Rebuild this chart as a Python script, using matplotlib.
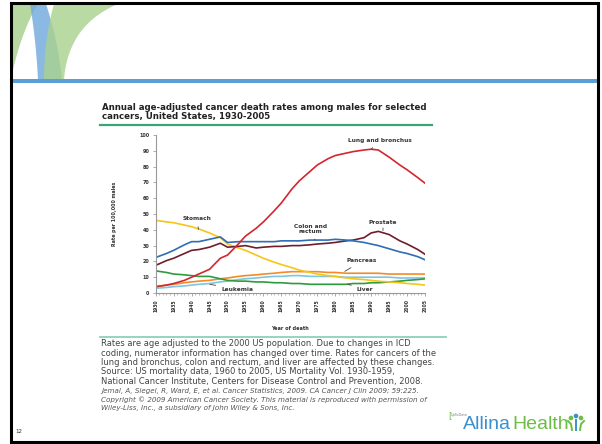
import numpy as np
import matplotlib
matplotlib.use('Agg')
import matplotlib.pyplot as plt
from matplotlib.patches import Polygon, Rectangle, Circle

W, H = 602, 444

years = [1930, 1933, 1935, 1938, 1940, 1942, 1945, 1948, 1950, 1953, 1955,
         1958, 1960, 1963, 1965, 1968, 1970, 1973, 1975, 1978, 1980, 1983,
         1985, 1988, 1990, 1992, 1995, 1998, 2000, 2003, 2005]

lung = [4, 5, 6, 8, 10, 12, 15, 22, 24, 31, 36, 41, 45, 52, 57, 66, 71, 77,
        81, 85, 87, 88.5, 89.5, 90.5, 91, 90.5, 86, 81, 78, 73, 69.5]
stomach = [46, 45, 44.5, 43, 42, 40.5, 38, 35, 31, 28.5, 27, 24, 22, 19.5, 18,
           16, 14.5, 13, 12, 11, 10.5, 9.5, 9, 8.5, 8, 7.5, 7, 6.5, 6, 5.5, 5]
colon = [22.5, 25, 27, 30.5, 32.5, 32.5, 34, 35.5, 32, 32.5, 32.5, 32.5, 32.5,
         32.5, 33, 33, 33, 33.5, 33.5, 33.5, 34, 33.5, 33, 32, 31, 30, 28, 26,
         25, 23, 21]
prostate = [17.5, 20.5, 22, 25, 27, 27.5, 29, 31.5, 29, 29.5, 30, 28.5, 29,
            29.5, 29.5, 30, 30, 30.5, 31, 31.5, 32, 33, 33.5, 35, 38, 39, 37,
            33, 31, 27.5, 24.5]
pancreas = [4, 5, 5.5, 6.5, 7, 7.5, 8, 9, 9.5, 10.5, 11, 11.5, 12, 12.5, 13,
            13.5, 13.5, 13.5, 13.5, 13, 13, 12.5, 12.5, 12.5, 12.5, 12.5, 12,
            12, 12, 12, 12]
leukemia = [3, 3.5, 4, 4.5, 5, 5.5, 6, 7, 7.5, 8.5, 9, 9.5, 10, 10.5, 10.5, 11,
            11, 10.5, 10.5, 10.5, 10.5, 10, 10, 10, 10, 10, 10, 9.5, 9.5, 9.5,
            9.5]
liver = [14, 13, 12, 11.5, 11, 10.5, 10.5, 9, 8, 7.5, 7.5, 7, 7, 6.5, 6.5, 6,
         6, 5.5, 5.5, 5.5, 5.5, 5.5, 6, 6, 6.5, 6.5, 7, 7.5, 8, 8.5, 9]

x_ticks = list(range(1930, 2006, 5))
y_ticks = list(range(0, 101, 10))

footer_lines = [
    'Rates are age adjusted to the 2000 US population. Due to changes in ICD',
    'coding, numerator information has changed over time. Rates for cancers of the',
    'lung and bronchus, colon and rectum, and liver are affected by these changes.',
    'Source: US mortality data, 1960 to 2005, US Mortality Vol. 1930-1959,',
    'National Cancer Institute, Centers for Disease Control and Prevention, 2008.',
]
footer_italic = [
    'Jemal, A, Siegel, R, Ward, E, et al. Cancer Statistics, 2009. CA Cancer J Clin 2009; 59:225.',
    'Copyright \u00a9 2009 American Cancer Society. This material is reproduced with permission of',
    'Wiley-Liss, Inc., a subsidiary of John Wiley & Sons, Inc.',
]


def fx(x):
    return x / W


def fy(y):
    return 1 - y / H


fig = plt.figure(figsize=(W / 100, H / 100), dpi=100, facecolor='white')

# slide background layer
bg = fig.add_axes([0, 0, 1, 1])
bg.set_xlim(0, W)
bg.set_ylim(H, 0)
bg.axis('off')


def band(p0, p1, p2, q0, q1, q2):
    t = np.linspace(0, 1, 40)[:, None]
    a = (1 - t) ** 2 * np.array(p0) + 2 * t * (1 - t) * np.array(p1) + t ** 2 * np.array(p2)
    b = (1 - t) ** 2 * np.array(q0) + 2 * t * (1 - t) * np.array(q1) + t ** 2 * np.array(q2)
    return np.vstack([a, b[::-1]])


# header arcs
bg.add_patch(Polygon(band((12, 4), (12, 40), (12, 74), (38, 4), (22, 30), (12, 74)),
                     closed=True, facecolor='#a9d18e', edgecolor='none', alpha=0.85))
bg.add_patch(Polygon(band((30, 4), (36, 40), (38, 80), (46, 4), (58, 40), (62, 80)),
                     closed=True, facecolor='#6fa8dc', edgecolor='none', alpha=0.8))
bg.add_patch(Polygon(band((54, 4), (44, 40), (44, 80), (118, 4), (68, 25), (64, 80)),
                     closed=True, facecolor='#a9d18e', edgecolor='none', alpha=0.8))
bg.add_patch(Rectangle((11, 79), 587, 4.5, facecolor='#5b9fd6', edgecolor='none'))
# slide frame
bg.add_patch(Rectangle((11, 3), 587, 439, facecolor='none', edgecolor='black', lw=2.2))

# chart title and rules
fig.text(fx(102), fy(108), 'Annual age-adjusted cancer death rates among males for selected',
         fontsize=6.2, fontweight='bold', color='#222222', va='center', ha='left')
fig.text(fx(102), fy(117), 'cancers, United States, 1930-2005',
         fontsize=6.2, fontweight='bold', color='#222222', va='center', ha='left')
bg.plot([100, 432], [125.5, 125.5], color='#3aa576', lw=1.6)
bg.plot([100, 446], [337, 337], color='#8fd0b8', lw=1.3)

# footer notes
for i, line in enumerate(footer_lines):
    fig.text(fx(101), fy(344 + i * 9.3), line, fontsize=6.0, color='#444444',
             va='center', ha='left')
for i, line in enumerate(footer_italic):
    fig.text(fx(101), fy(391 + i * 8.5), line, fontsize=5.1, color='#555555',
             style='italic', va='center', ha='left')

# logos
fig.text(fx(463), fy(424), 'Allina', fontsize=14, color='#3a8fd0',
         family='Liberation Sans', va='center', ha='left')
fig.text(fx(512), fy(424), 'Health', fontsize=14, color='#6cbd45',
         family='Liberation Sans', va='center', ha='left')
bg.add_patch(Circle((571, 418), 1.6, color='#6cbd45'))
bg.add_patch(Circle((576, 416), 1.6, color='#3a8fd0'))
bg.add_patch(Circle((581, 418), 1.6, color='#6cbd45'))
bg.plot([568, 571, 572], [421, 424, 430], color='#6cbd45', lw=1.4)
bg.plot([576, 576], [420, 430], color='#3a8fd0', lw=1.4)
bg.plot([584, 581, 580], [421, 424, 430], color='#6cbd45', lw=1.4)
fig.text(fx(448), fy(416), '[', fontsize=6, color='#6cbd45', va='center', ha='left')
fig.text(fx(451), fy(415), 'UpToDate', fontsize=2.5, color='#777777', va='center', ha='left')
fig.text(fx(15), fy(431), '12', fontsize=4, color='#333333', va='center', ha='left')

# chart axes
left, right, top, bottom = 155.7, 425.0, 135.0, 293.0
ax = fig.add_axes([fx(left), fy(bottom), (right - left) / W, (bottom - top) / H])
ax.set_facecolor('none')
series = [
    (leukemia, '#7cc6e4'),
    (pancreas, '#f28c28'),
    (liver, '#2e9b3e'),
    (stomach, '#f5c518'),
    (prostate, '#6e1e2c'),
    (colon, '#2f6db5'),
    (lung, '#d3262e'),
]
for vals, c in series:
    ax.plot(years, vals, color=c, lw=1.2, solid_joinstyle='round')

ax.set_xlim(1930, 2005)
ax.set_ylim(0, 100)
ax.set_xticks(x_ticks)
ax.set_xticks(range(1930, 2006), minor=True)
ax.set_xticklabels([str(v) for v in x_ticks], rotation=90, fontsize=3.3,
                   fontweight='bold', color='#333333')
ax.set_yticks(y_ticks)
ax.set_yticklabels([str(v) for v in y_ticks], fontsize=3.5, fontweight='bold',
                   color='#333333')
ax.tick_params(axis='both', which='major', length=2.5, width=0.5, color='#888888', pad=2)
ax.tick_params(axis='x', which='minor', length=1.5, width=0.4, color='#888888')
for s in ['top', 'right']:
    ax.spines[s].set_visible(False)
for s in ['left', 'bottom']:
    ax.spines[s].set_color('#999999')
    ax.spines[s].set_linewidth(0.8)

ax.set_ylabel('Rate per 100,000 males', fontsize=3.4, fontweight='bold',
              color='#333333', labelpad=16)
ax.set_xlabel('Year of death', fontsize=3.6, fontweight='bold', color='#333333',
              labelpad=10)

lab = dict(fontsize=4.2, fontweight='bold', color='#333333', ha='center', va='center')
arr = dict(arrowstyle='-', color='#444444', lw=0.6)
ax.annotate('Lung and bronchus', xy=(1990, 91), xytext=(1992.5, 96.5), arrowprops=arr, **lab)
ax.annotate('Stomach', xy=(1942, 38.5), xytext=(1941.5, 47), arrowprops=arr, **lab)
ax.annotate('Colon and\nrectum', xy=(1974.4, 33.5), xytext=(1973, 40.5), arrowprops=arr,
            linespacing=0.9, **lab)
ax.annotate('Prostate', xy=(1993.3, 39.5), xytext=(1993.3, 44.5), arrowprops=arr, **lab)
ax.annotate('Pancreas', xy=(1982, 12.8), xytext=(1987.5, 20.3), arrowprops=arr, **lab)
ax.annotate('Leukemia', xy=(1944.3, 5.8), xytext=(1952.7, 2.5), arrowprops=arr, **lab)
ax.annotate('Liver', xy=(1982.7, 6.0), xytext=(1988.3, 2.5), arrowprops=arr, **lab)

fig.savefig('out.png', dpi=100, facecolor='white')
